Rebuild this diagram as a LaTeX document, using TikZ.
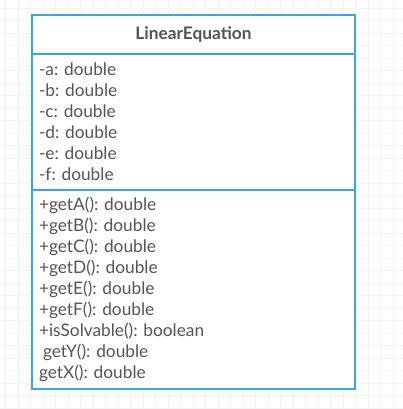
\documentclass[tikz,border=0pt]{standalone}
\usepackage{fontspec}
\setmainfont{Lato}
\usetikzlibrary{positioning}
\definecolor{umlblue}{HTML}{3AA6E6}
\definecolor{umltext}{HTML}{555555}
\definecolor{gridgray}{HTML}{F3F3F3}
\frenchspacing
\begin{document}
\begin{tikzpicture}[x=1pt,y=-1pt]
    \useasboundingbox (0,0) rectangle (403,409);
    \fill[white] (0,0) rectangle (403,409);
    \draw[gridgray,line width=0.7pt,xshift=5.5pt,yshift=-8pt] (-12.5,-12.5) grid[step=12.5pt] (410,420);

    \begin{scope}[outer sep=0pt]
      \tikzstyle{compartment}=[draw=umlblue,line width=2pt,fill=white,minimum width=323pt,inner xsep=7pt,text width=309pt,text=umltext,font=\fontsize{17.3}{21}\selectfont]
      \node[compartment,minimum height=39pt,align=center,font=\fontsize{17.3}{21}\selectfont\bfseries] (Title) at (193.5,34.5) {LinearEquation};
      \node[compartment,minimum height=136pt,align=left,below=0pt of Title] (Attrs) {-a: double\\-b: double\\-c: double\\-d: double\\-e: double\\-f: double};
      \node[compartment,minimum height=199pt,align=left,below=0pt of Attrs] (Ops) {+getA(): double\\+getB(): double\\+getC(): double\\+getD(): double\\+getE(): double\\+getF(): double\\+isSolvable(): boolean\\\hspace*{4pt}getY(): double\\getX(): double};
    \end{scope}
  \end{tikzpicture}
\end{document}
